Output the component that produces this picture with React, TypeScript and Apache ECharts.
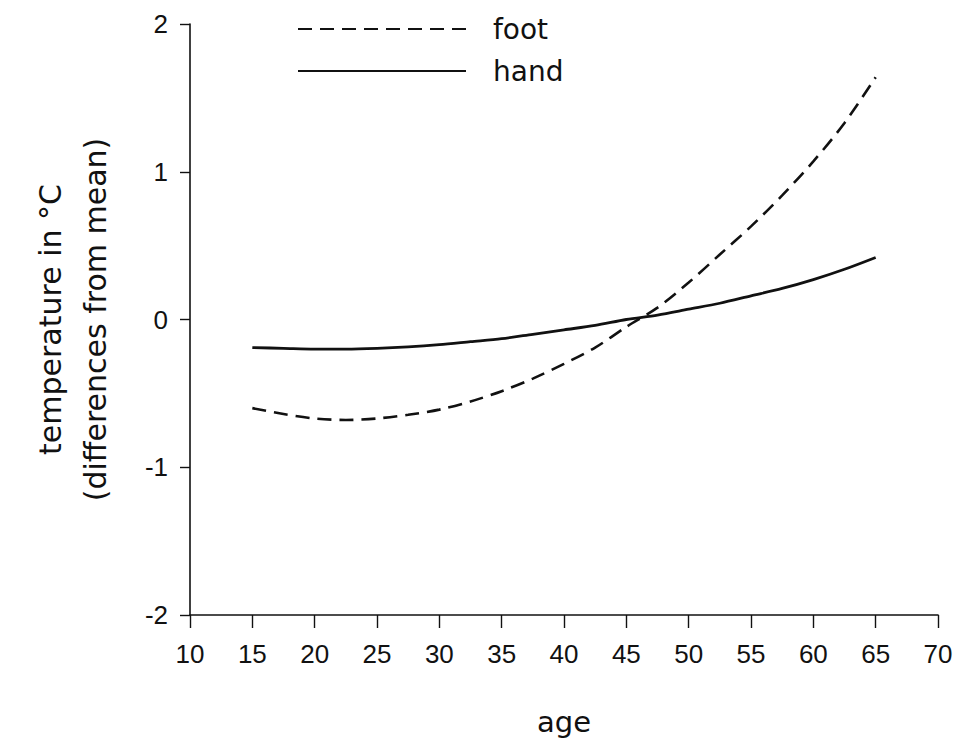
import React, { useEffect, useRef } from "react";
import * as echarts from "echarts";

const ages = [15, 17.5, 20, 22.5, 25, 27.5, 30, 32.5, 35, 37.5, 40, 42.5, 45, 47.5, 50, 52.5, 55, 57.5, 60, 62.5, 65];
const footValues = [-0.6, -0.64, -0.67, -0.68, -0.67, -0.645, -0.61, -0.555, -0.485, -0.4, -0.3, -0.19, -0.05, 0.08, 0.25, 0.44, 0.63, 0.84, 1.07, 1.33, 1.64];
const handValues = [-0.19, -0.195, -0.2, -0.2, -0.195, -0.185, -0.17, -0.15, -0.13, -0.1, -0.07, -0.04, 0.0, 0.03, 0.07, 0.11, 0.16, 0.21, 0.27, 0.34, 0.42];

const seriesNames = ["foot", "hand"];
const xAxisTitle = "age";
const yAxisTitle = "temperature in °C\n(differences from mean)";

const INK = "#111";
const NUM_FONT = "'Liberation Sans', Arial, Helvetica, sans-serif";
const TXT_FONT = "'DejaVu Sans', 'Liberation Sans', sans-serif";

export default function App() {
  const ref = useRef<HTMLDivElement>(null);
  useEffect(() => {
    if (!ref.current) return;
    const chart = echarts.init(ref.current, undefined, { renderer: "svg" });
    const pairs = (vals: number[]) => ages.map((a, i) => [a, vals[i]]);
    chart.setOption({
      animation: false,
      backgroundColor: "#fff",
      grid: { left: 190, right: 20, top: 24, bottom: 124, containLabel: false },
      legend: {
        orient: "vertical",
        left: 292,
        top: 10,
        itemWidth: 168,
        itemHeight: 28,
        itemGap: 14,
        selectedMode: false,
        itemStyle: { opacity: 0 },
        textStyle: { fontFamily: TXT_FONT, fontSize: 28, color: INK, padding: [0, 0, 0, 22] },
        data: seriesNames,
      },
      xAxis: {
        type: "value",
        min: 10,
        max: 70,
        interval: 5,
        name: xAxisTitle,
        nameLocation: "middle",
        nameGap: 92,
        nameTextStyle: { fontFamily: TXT_FONT, fontSize: 29, color: INK },
        axisLine: { show: true, onZero: false, lineStyle: { color: INK, width: 1.6 } },
        axisTick: { show: true, length: 13, lineStyle: { color: INK, width: 1.4 } },
        axisLabel: { fontFamily: NUM_FONT, fontSize: 26, color: INK, margin: 26 },
        splitLine: { show: false },
      },
      yAxis: {
        type: "value",
        min: -2,
        max: 2,
        interval: 1,
        name: yAxisTitle,
        nameLocation: "middle",
        nameRotate: 90,
        nameGap: 72,
        nameTextStyle: { fontFamily: TXT_FONT, fontSize: 30, color: INK, lineHeight: 45 },
        axisLine: { show: true, onZero: false, lineStyle: { color: INK, width: 1.6 } },
        axisTick: { show: true, length: 10, lineStyle: { color: INK, width: 1.4 } },
        axisLabel: { fontFamily: NUM_FONT, fontSize: 26, color: INK, margin: 22 },
        splitLine: { show: false },
      },
      series: [
        {
          name: seriesNames[0],
          type: "line",
          data: pairs(footValues),
          symbol: "none",
          smooth: 0.3,
          lineStyle: { color: INK, width: 2.6, type: [14, 8] },
          itemStyle: { color: INK },
        },
        {
          name: seriesNames[1],
          type: "line",
          data: pairs(handValues),
          symbol: "none",
          smooth: 0.3,
          lineStyle: { color: INK, width: 2.8, type: "solid" },
          itemStyle: { color: INK },
        },
      ],
    });
    return () => chart.dispose();
  }, []);
  return (
    <div
      ref={ref}
      style={{ position: "absolute", left: 0, top: 0, width: 958, height: 741 }}
    />
  );
}
